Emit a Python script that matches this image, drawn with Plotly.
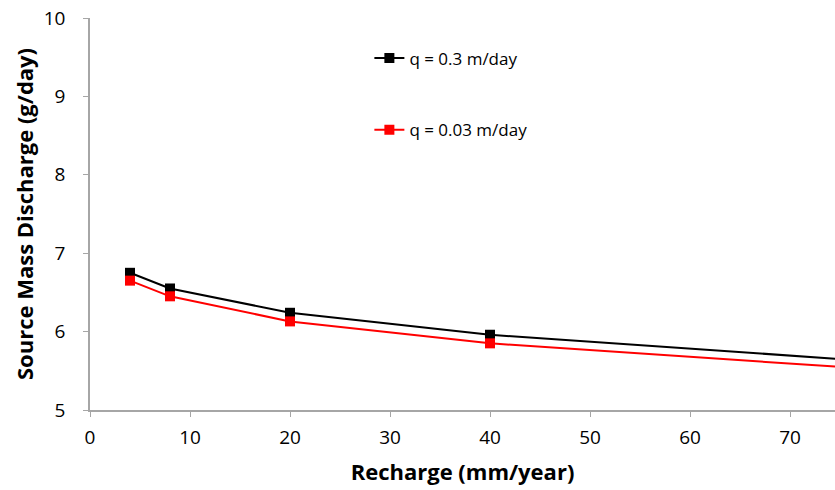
import plotly.graph_objects as go

recharge = [4, 8, 20, 40, 75]
q03 = [6.75, 6.55, 6.24, 5.96, 5.65]
q003 = [6.65, 6.45, 6.13, 5.85, 5.55]
names = ["q = 0.3 m/day", "q = 0.03 m/day"]
x_ticks = [0, 10, 20, 30, 40, 50, 60, 70]
y_ticks = [5, 6, 7, 8, 9, 10]

font = "'Open Sans', sans-serif"

fig = go.Figure()
fig.add_trace(go.Scatter(
    x=recharge, y=q03, name=names[0], mode="lines+markers",
    line=dict(color="black", width=2),
    marker=dict(symbol="square", size=10, color="black"),
    legend="legend"))
fig.add_trace(go.Scatter(
    x=recharge, y=q003, name=names[1], mode="lines+markers",
    line=dict(color="#ff0000", width=2),
    marker=dict(symbol="square", size=10, color="#ff0000"),
    legend="legend2"))

axis_common = dict(showline=True, linecolor="#a6a6a6", linewidth=1.5,
                   ticks="outside", ticklen=5, tickcolor="#a6a6a6",
                   showgrid=False, zeroline=False, automargin=False,
                   tickfont=dict(family=font, size=19, color="black"))

fig.update_layout(
    width=835, height=490,
    showlegend=True,
    margin=dict(l=90, r=0, t=18, b=80),
    plot_bgcolor="white", paper_bgcolor="white",
    xaxis=dict(range=[0, 74.5], tickvals=x_ticks, ticklabelstandoff=4,
               title=dict(text="<b>Recharge (mm/year)</b>",
                          font=dict(family=font, size=22, color="black"),
                          standoff=16),
               **axis_common),
    yaxis=dict(range=[5, 10], tickvals=y_ticks, ticklabelstandoff=14,
               title=dict(text="<b>Source Mass Discharge (g/day)</b>",
                          font=dict(family=font, size=22, color="black"),
                          standoff=4),
               **axis_common),
    legend=dict(x=0.375, y=0.897, xanchor="left", yanchor="middle",
                bgcolor="rgba(0,0,0,0)", itemwidth=30,
                font=dict(family=font, size=17, color="black")),
    legend2=dict(x=0.375, y=0.714, xanchor="left", yanchor="middle",
                 bgcolor="rgba(0,0,0,0)", itemwidth=30,
                 font=dict(family=font, size=17, color="black")),
)

fig.write_html(
    "out.html",
    config={"displayModeBar": False},
    post_script="document.body.style.margin='0';document.body.style.overflow='hidden';",
)
